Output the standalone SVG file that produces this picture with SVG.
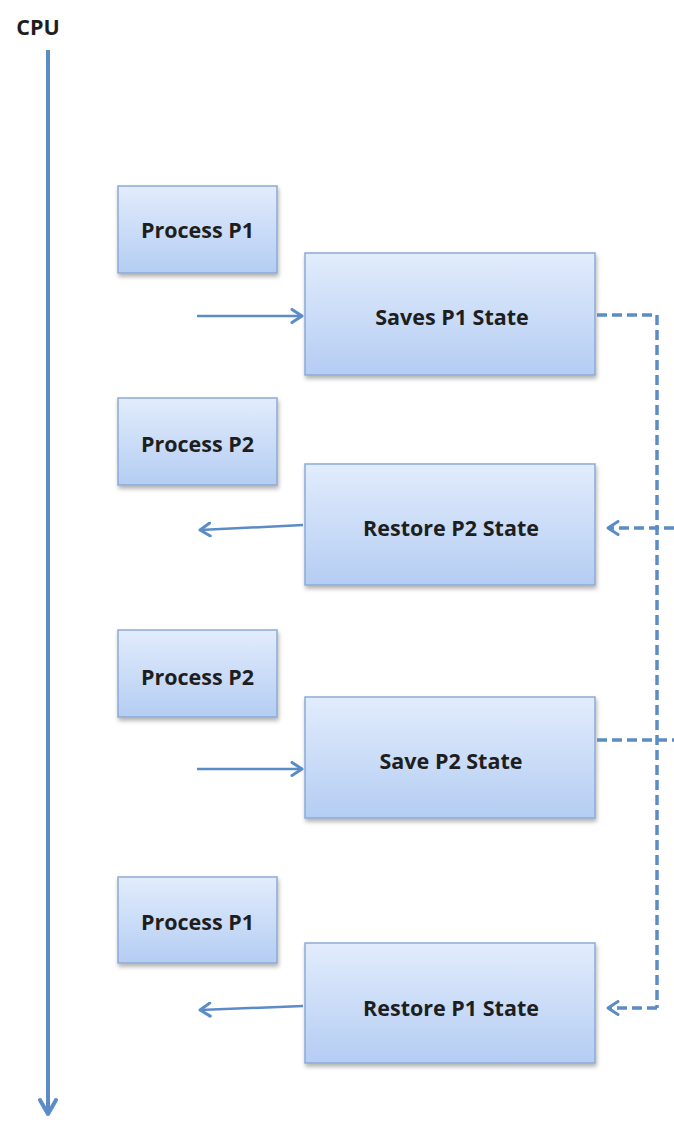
<svg xmlns="http://www.w3.org/2000/svg" width="674" height="1124" viewBox="0 0 674 1124">
<defs>
<linearGradient id="g" x1="0" y1="0" x2="0" y2="1">
<stop offset="0" stop-color="#e2ecfc"/>
<stop offset="1" stop-color="#b4cdf3"/>
</linearGradient>
<filter id="sh" x="-10%" y="-10%" width="130%" height="130%">
<feDropShadow dx="1" dy="3" stdDeviation="2" flood-color="#000" flood-opacity="0.3"/>
</filter>
<marker id="ah" viewBox="0 0 16 16" refX="13" refY="8" markerWidth="16" markerHeight="16" markerUnits="userSpaceOnUse" orient="auto">
<path d="M3,1.5 L13,8 L3,14.5" fill="none" stroke="#5b8cc6" stroke-width="3" stroke-linecap="round" stroke-linejoin="round"/>
</marker>
<marker id="ahb" viewBox="0 0 20 20" refX="17" refY="10" markerWidth="20" markerHeight="20" markerUnits="userSpaceOnUse" orient="auto">
<path d="M3,2 L17,10 L3,18" fill="none" stroke="#5b8cc6" stroke-width="4" stroke-linecap="round" stroke-linejoin="round"/>
</marker>
</defs>
<style>
.box{fill:url(#g);stroke:#8daad6;stroke-width:1.5;filter:url(#sh)}
.t{font-family:"Open Sans","DejaVu Sans",sans-serif;font-weight:bold;font-size:21.5px;fill:#1e1e1e;text-anchor:middle}
.a{fill:none;stroke:#5b8cc6;stroke-width:2.5;marker-end:url(#ah)}
.d{fill:none;stroke:#5b8cc6;stroke-width:3.5;stroke-dasharray:10 5}
.da{fill:none;stroke:#5b8cc6;stroke-width:3.5;stroke-dasharray:10 5;marker-end:url(#ah)}
</style>
<rect width="674" height="1124" fill="#ffffff"/>
<g id="cpu">
<text x="38" y="35" class="t">CPU</text>
<line x1="48" y1="50" x2="48" y2="1114" stroke="#5b8cc6" stroke-width="4" marker-end="url(#ahb)"/>
</g>
<g id="p1a"><rect class="box" x="118" y="186" width="159" height="87"/><text class="t" x="197.5" y="238">Process P1</text></g>
<g id="s1"><rect class="box" x="305" y="253" width="290" height="122"/><text class="t" x="452" y="325">Saves P1 State</text></g>
<g id="p2a"><rect class="box" x="118" y="398" width="159" height="87"/><text class="t" x="197.5" y="452">Process P2</text></g>
<g id="r2"><rect class="box" x="305" y="464" width="290" height="121"/><text class="t" x="451" y="536">Restore P2 State</text></g>
<g id="p2b"><rect class="box" x="118" y="630" width="159" height="87"/><text class="t" x="197.5" y="685">Process P2</text></g>
<g id="s2"><rect class="box" x="305" y="697" width="290" height="121"/><text class="t" x="451" y="769">Save P2 State</text></g>
<g id="p1b"><rect class="box" x="118" y="877" width="159" height="86"/><text class="t" x="197.5" y="930">Process P1</text></g>
<g id="r1"><rect class="box" x="305" y="943" width="290" height="120"/><text class="t" x="451" y="1016">Restore P1 State</text></g>
<g id="connectors">
<line class="a" x1="197" y1="316" x2="302" y2="316"/>
<line class="a" x1="303" y1="525" x2="200" y2="530"/>
<line class="a" x1="197" y1="769" x2="302" y2="769"/>
<line class="a" x1="303" y1="1006" x2="200" y2="1010"/>
<path class="d" d="M597,315 L657,315 L657,1008"/>
<path class="da" d="M674,528 L608,528"/>
<path class="d" d="M597,740 L674,740"/>
<path class="da" d="M657,1008 L608,1008"/>
</g>
</svg>
